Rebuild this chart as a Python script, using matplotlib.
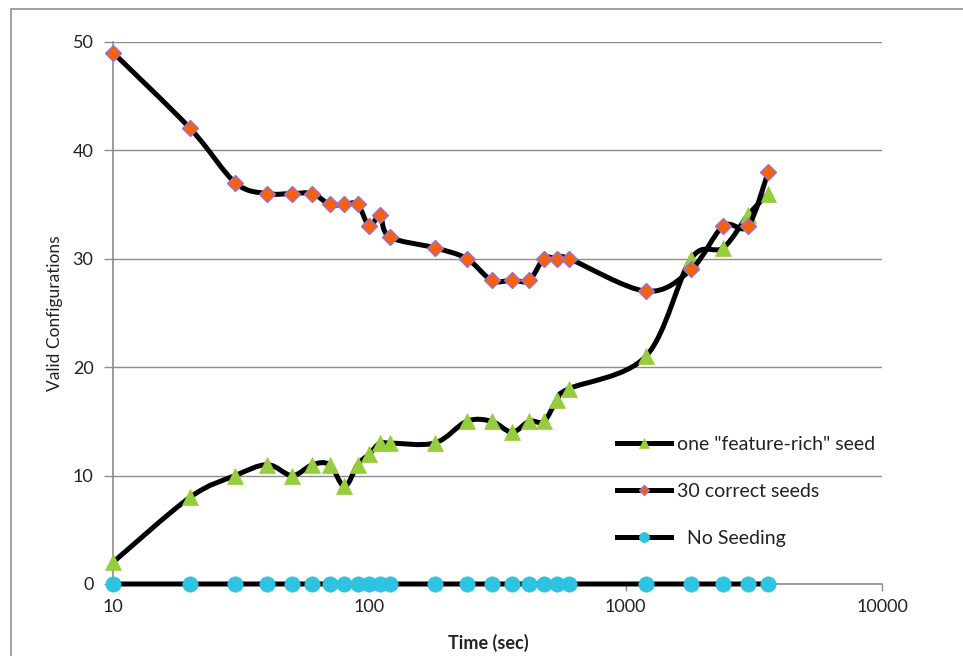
import numpy as np
import matplotlib
matplotlib.use('Agg')
import matplotlib.pyplot as plt
from matplotlib.path import Path
from matplotlib.patches import PathPatch, Rectangle
from matplotlib.lines import Line2D
import matplotlib.ticker as ticker

plt.rcParams['font.family'] = ['Lato', 'DejaVu Sans']

# time points (sec) shared by all three runs
times = [10, 20, 30, 40, 50, 60, 70, 80, 90, 100, 110, 120, 180, 240, 300,
         360, 420, 480, 540, 600, 1200, 1800, 2400, 3000, 3600]

feature_rich = [2, 8, 10, 11, 10, 11, 11, 9, 11, 12, 13, 13, 13, 15, 15,
                14, 15, 15, 17, 18, 21, 30, 31, 34, 36]
correct_30 = [49, 42, 37, 36, 36, 36, 35, 35, 35, 33, 34, 32, 31, 30, 28,
              28, 28, 30, 30, 30, 27, 29, 33, 33, 38]
no_seeding = [0] * len(times)

labels = ['one "feature-rich" seed', '30 correct seeds', '  No Seeding']

GRID = '#8c8c8c'
LINE_W = 3.6


def smooth_path(xs, ys):
    """Bezier path through the points, Catmull-Rom style, built in log-x space."""
    u = np.log10(np.asarray(xs, float))
    v = np.asarray(ys, float)
    pts = np.column_stack([u, v])
    n = len(pts)
    verts = [pts[0]]
    codes = [Path.MOVETO]
    for i in range(n - 1):
        p0 = pts[max(i - 1, 0)]
        p1 = pts[i]
        p2 = pts[i + 1]
        p3 = pts[min(i + 2, n - 1)]
        c1 = p1 + (p2 - p0) / 6.0
        c2 = p2 - (p3 - p1) / 6.0
        verts += [c1, c2, p2]
        codes += [Path.CURVE4] * 3
    verts = np.array(verts)
    verts[:, 0] = 10 ** verts[:, 0]
    return Path(verts, codes)


fig = plt.figure(figsize=(9.63, 6.56), dpi=100)
ax = fig.add_axes([113 / 963, 1 - 584 / 656, (882 - 113) / 963, (584 - 41.7) / 656])

ax.set_xscale('log')
ax.set_xlim(10, 10000)
ax.set_ylim(0, 50)

series = [
    (feature_rich, dict(marker='^', ms=11, mfc='#96cd3c', mec='#96cd3c', mew=0.5)),
    (correct_30, dict(marker='D', ms=8.5, mfc='#f4620e', mec='#9a6fd6', mew=1.0)),
    (no_seeding, dict(marker='o', ms=11, mfc='#2dc3e1', mec='#2dc3e1', mew=0.5)),
]

handles = []
for k, (vals, mstyle) in enumerate(series):
    patch = PathPatch(smooth_path(times, vals), fill=False, edgecolor='black',
                      lw=LINE_W, capstyle='round', joinstyle='round',
                      zorder=3 + k, clip_on=False)
    ax.add_patch(patch)
    ax.plot(times, vals, linestyle='none', zorder=3.5 + k, clip_on=False, **mstyle)
    hstyle = dict(mstyle)
    hstyle['ms'] = mstyle['ms'] * 0.65
    handles.append(Line2D([], [], color='black', lw=LINE_W, **hstyle))

# axes styling
for side in ('top', 'right'):
    ax.spines[side].set_visible(False)
for side in ('left', 'bottom'):
    ax.spines[side].set_color(GRID)
    ax.spines[side].set_linewidth(1.2)

ax.yaxis.set_major_locator(ticker.MultipleLocator(10))
ax.xaxis.set_major_locator(ticker.LogLocator(base=10, numticks=10))
ax.xaxis.set_minor_locator(ticker.NullLocator())
ax.xaxis.set_major_formatter(ticker.FuncFormatter(lambda v, p: f'{int(round(v))}'))
ax.grid(axis='y', color=GRID, lw=1.0)
ax.set_axisbelow(True)

ax.tick_params(axis='both', which='major', direction='out', color=GRID,
               width=1.0, labelsize=13, labelcolor='#222222')
ax.tick_params(axis='y', length=6.5, pad=7.5)
ax.tick_params(axis='x', length=5, pad=6)

ax.set_ylabel('Valid Configurations', fontsize=12.5, color='#222222', labelpad=7)
ax.set_xlabel('Time (sec)', fontsize=13, fontweight='bold', color='#222222', labelpad=11)
ax.xaxis.set_label_coords(0.488, -0.092)

leg = ax.legend(handles, labels, loc='upper left',
                bbox_to_anchor=(617 / 963, 1 - 436 / 656), bbox_transform=fig.transFigure,
                frameon=False, fontsize=14, handlelength=2.8, handletextpad=0.28,
                labelspacing=1.55, borderpad=0, borderaxespad=0, numpoints=1)
for t in leg.get_texts():
    t.set_color('#222222')

# chart area border
fig.patches.append(Rectangle((11 / 963, -0.2), 2, 1.2 - 9 / 656, fill=False,
                             edgecolor='#9a9a9a', lw=1.3, transform=fig.transFigure))

fig.savefig('out.png', dpi=100)
